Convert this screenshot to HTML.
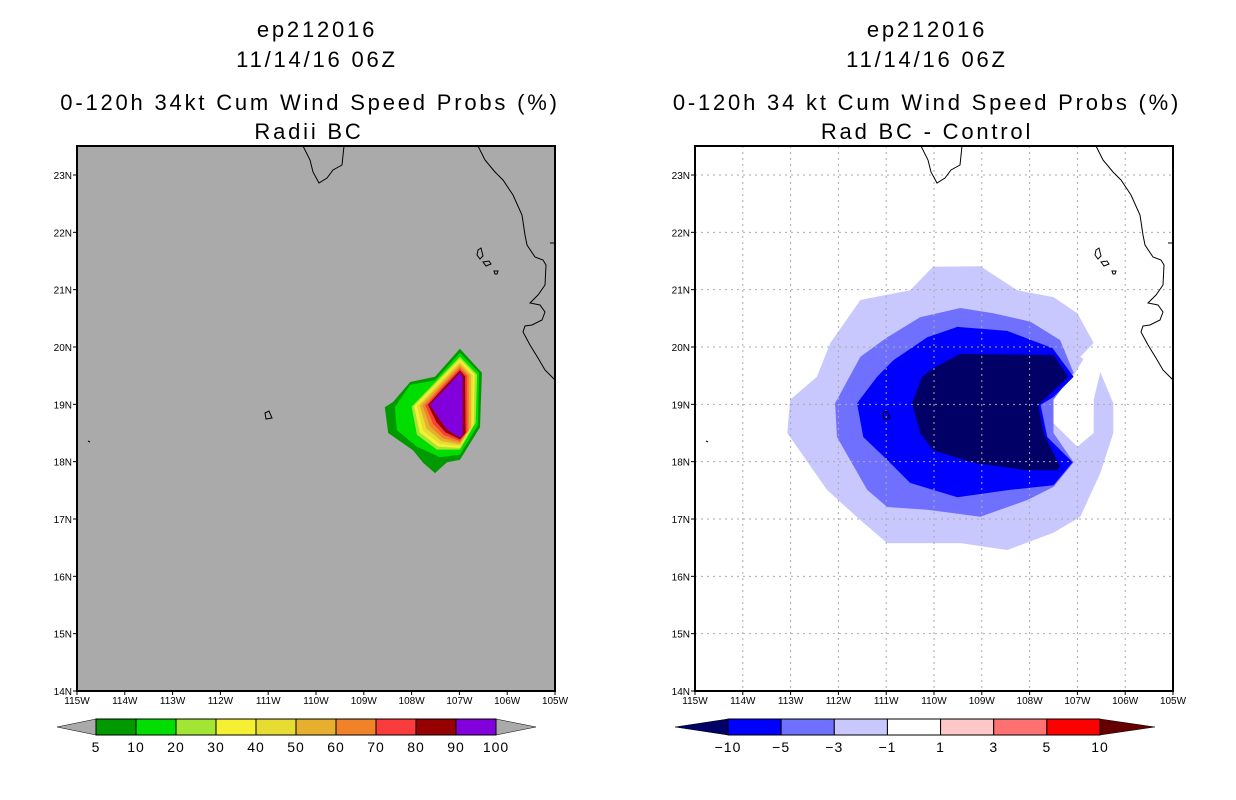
<!DOCTYPE html>
<html><head><meta charset="utf-8">
<style>
body{margin:0;background:#fff;}
svg{display:block;font-family:"Liberation Sans",sans-serif;}
</style></head>
<body>
<svg id="root" width="1236" height="800" viewBox="0 0 1236 800" xmlns="http://www.w3.org/2000/svg">
<rect width="1236" height="800" fill="#fff"/>
<g font-size="22" letter-spacing="2.8" text-anchor="middle" fill="#000">
<text x="317" y="37">ep212016</text>
<text x="317" y="67">11/14/16 06Z</text>
<text x="310" y="110">0-120h 34kt Cum Wind Speed Probs (%)</text>
<text x="309" y="139">Radii BC</text>
</g>
<g font-size="22" letter-spacing="2.8" text-anchor="middle" fill="#000">
<text x="927" y="37">ep212016</text>
<text x="927" y="67">11/14/16 06Z</text>
<text x="927" y="110">0-120h 34 kt Cum Wind Speed Probs (%)</text>
<text x="927" y="139">Rad BC - Control</text>
</g>
<g id="left"></g>
<g id="right"></g>
<g id="cbl"></g>
<g id="cbr"></g>
</svg>
<script>
const NS="http://www.w3.org/2000/svg";
// axis ticks
const lonTicks=[115,114,113,112,111,110,109,108,107,106,105];
const latTicks=[14,15,16,17,18,19,20,21,22,23];
// left panel probability contours (lonW, lat)
const leftLevels=["#009900","#00dd00","#a0e632","#f5f032","#e6dc32","#e6af2d","#f08228","#fa3c3c","#960000","#8200dc"];
const leftContours=[
[[106.99,19.97],[106.53,19.55],[106.57,18.60],[106.99,18.03],[107.26,17.99],[107.51,17.80],[107.76,17.98],[107.97,18.2],[108.49,18.5],[108.56,18.95],[108.39,19.04],[108.03,19.39],[107.51,19.48]],
[[106.99,19.9],[106.59,19.55],[106.61,18.64],[106.99,18.12],[107.41,18.08],[107.89,18.26],[108.31,18.55],[108.35,18.95],[108.03,19.34],[107.51,19.42]],
[[106.99,19.83],[106.63,19.52],[106.66,18.68],[106.99,18.21],[107.47,18.21],[107.89,18.47],[108.0,18.96],[107.51,19.38]],
[[106.99,19.79],[106.68,19.52],[106.70,18.65],[106.99,18.24],[107.44,18.26],[107.83,18.51],[107.95,18.97],[107.48,19.37]],
[[106.99,19.75],[106.72,19.51],[106.73,18.62],[106.99,18.27],[107.41,18.31],[107.76,18.54],[107.89,18.97],[107.45,19.36]],
[[106.99,19.71],[106.76,19.51],[106.76,18.59],[106.99,18.30],[107.38,18.36],[107.69,18.58],[107.83,18.98],[107.42,19.34]],
[[106.99,19.67],[106.80,19.50],[106.80,18.56],[106.99,18.33],[107.35,18.41],[107.62,18.62],[107.77,18.98],[107.39,19.32]],
[[106.99,19.63],[106.84,19.50],[106.83,18.53],[106.99,18.36],[107.32,18.46],[107.55,18.66],[107.71,18.98],[107.36,19.31]],
[[106.99,19.59],[106.88,19.49],[106.87,18.50],[106.99,18.39],[107.29,18.51],[107.48,18.69],[107.66,18.99],[107.33,19.29]],
[[106.99,19.55],[106.93,19.48],[106.93,18.47],[106.99,18.42],[107.26,18.56],[107.41,18.73],[107.62,18.99],[107.30,19.27]]
];
// right panel difference contours
const rightColors=["#c8c8ff","#ffffff","#7070ff","#0000ff","#000066"];
const rightContours=[
[[110.02,21.40],[109.03,21.41],[108.26,20.99],[107.5,20.87],[107.0,20.59],[106.66,20.07],[106.94,19.83],[106.52,19.56],[106.25,19.02],[106.25,18.50],[106.52,17.80],[106.94,17.04],[107.5,16.76],[108.47,16.46],[109.45,16.58],[110.98,16.58],[111.54,16.98],[112.24,17.51],[113.07,18.50],[113.01,19.08],[112.45,19.48],[112.17,20.07],[111.54,20.82],[110.5,20.99]],
[[106.66,20.07],[107.08,19.51],[107.63,19.02],[107.5,18.67],[107.0,18.26],[106.66,18.5],[106.66,19.08],[106.52,19.56]],
[[109.45,20.68],[108.76,20.59],[107.98,20.44],[107.36,20.12],[107.08,19.55],[107.5,19.08],[107.5,18.5],[107.08,17.99],[107.5,17.56],[108.05,17.33],[109.03,17.04],[110.14,17.16],[110.98,17.21],[111.4,17.51],[112.03,18.43],[112.07,19.02],[111.54,19.83],[110.98,20.17],[110.29,20.52]],
[[109.51,20.35],[108.47,20.28],[107.52,19.98],[107.08,19.48],[107.5,19.13],[107.77,18.99],[107.63,18.43],[107.1,17.99],[107.5,17.59],[108.4,17.51],[109.51,17.38],[110.5,17.63],[110.98,18.03],[111.48,18.43],[111.61,19.02],[111.19,19.48],[110.85,19.77],[110.14,20.17]],
[[109.45,19.88],[107.5,19.86],[107.19,19.48],[107.82,18.99],[107.71,18.5],[107.36,17.91],[107.42,17.85],[108.05,17.85],[109.18,17.98],[110.02,18.2],[110.29,18.5],[110.46,19.02],[110.25,19.48],[110.02,19.63]]
];
const leftCbColors=["#009900","#00dd00","#a0e632","#f5f032","#e6dc32","#e6af2d","#f08228","#fa3c3c","#960000","#8200dc"];
const leftCbLabels=["5","10","20","30","40","50","60","70","80","90","100"];
const rightCbColors=["#0000ff","#7070ff","#c8c8ff","#ffffff","#ffc8c8","#ff7070","#ff0000"];
const rightCbLabels=["-10","-5","-3","-1","1","3","5","10"];

function el(tag,attrs,parent){const e=document.createElementNS(NS,tag);for(const k in attrs)e.setAttribute(k,attrs[k]);parent.appendChild(e);return e;}
function makeAxes(x0){
  const W=478,H=545,top=146;
  return {x0,top,W,H,
    x:lon=>x0+(115-lon)*W/10,
    y:lat=>691-(lat-14)*(691-175)/9};
}
function poly(ax,pts){return pts.map(p=>ax.x(p[0]).toFixed(1)+","+ax.y(p[1]).toFixed(1)).join(" ");}
const coast="M303,146 L310,160 L313,172 L319,183 L327,178 L333,170 L342,165 L344,146 M478,146 L485,160 L495,172 L503,180 L513,195 L522,215 L525,235 L527,245 L535,257 L543,260 L546,265 L545,285 L538,295 L530,303 L540,305 L545,312 L542,320 L532,325 L525,326 L523,332 L530,345 L538,358 L545,370 L555,380 M550,243 L555,243 M478,250 L481,248 L483,256 L480,259 L477,255 Z M483,262 L489,261 L491,264 L486,266 Z M494,271 L498,271 L497,274 L495,274 Z M265,413 L269,411 L272,418 L266,419 Z M88,441 L90,442";

function drawPanel(g,ax,bg,contours,colors,grid,side){
  const m=el("rect",{x:ax.x0,y:ax.top,width:ax.W,height:ax.H,fill:bg},g);
  
  
  const clipId="clip"+side;
  const cp=el("clipPath",{id:clipId},g);el("rect",{x:ax.x0,y:ax.top,width:ax.W,height:ax.H},cp);
  const cg=el("g",{"clip-path":"url(#"+clipId+")"},g);
  contours.forEach((c,i)=>{
    const p=el("polygon",{points:poly(ax,c),fill:colors[i]},cg);
    
    
  });
  if(grid){
    lonTicks.forEach(l=>{el("line",{x1:ax.x(l),x2:ax.x(l),y1:ax.top,y2:ax.top+ax.H,stroke:"#aaa","stroke-dasharray":"2,4","stroke-width":1},cg);});
    latTicks.forEach(l=>{el("line",{x1:ax.x0,x2:ax.x0+ax.W,y1:ax.y(l),y2:ax.y(l),stroke:"#aaa","stroke-dasharray":"2,4","stroke-width":1},cg);});
  }
  const cl=el("path",{d:coast,fill:"none",stroke:"#000","stroke-width":1,transform:"translate("+(ax.x0-77)+",0)"},cg);
  
  
  el("rect",{x:ax.x0,y:ax.top,width:ax.W,height:ax.H,fill:"none",stroke:"#000","stroke-width":2},g);
  lonTicks.forEach(l=>{
    el("line",{x1:ax.x(l),x2:ax.x(l),y1:691,y2:695,stroke:"#000"},g);
    const t=el("text",{x:ax.x(l),y:704,"font-size":10,"text-anchor":"middle"},g);t.textContent=l+"W";
    
    
  });
  latTicks.forEach(l=>{
    el("line",{x1:ax.x0-4,x2:ax.x0,y1:ax.y(l),y2:ax.y(l),stroke:"#000"},g);
    const t=el("text",{x:ax.x0-5,y:ax.y(l)+4,"font-size":10,"text-anchor":"end"},g);t.textContent=l+"N";
    
    
  });
}
const axL=makeAxes(77), axR=makeAxes(695);
drawPanel(document.getElementById("left"),axL,"#aaaaaa",leftContours,leftLevels,false,"left");
drawPanel(document.getElementById("right"),axR,"#ffffff",rightContours,rightColors,true,"right");

function colorbar(g,x0,x1,tl,tr,colors,labels,lc,rc,side){
  const y0=719,y1=735,n=colors.length,w=(x1-x0)/n;
  el("polygon",{points:`${tl},727 ${x0},${y0} ${x0},${y1}`,fill:lc,stroke:"#000","stroke-width":0.5},g);
  el("polygon",{points:`${tr},727 ${x1},${y0} ${x1},${y1}`,fill:rc,stroke:"#000","stroke-width":0.5},g);
  colors.forEach((c,i)=>{
    const r=el("rect",{x:x0+i*w,y:y0,width:w,height:y1-y0,fill:c,stroke:"#000","stroke-width":1},g);
    
    
  });
  labels.forEach((l,i)=>{
    const t=el("text",{x:x0+i*w,y:752,"font-size":14,"letter-spacing":1,"text-anchor":"middle"},g);t.textContent=l.replace("-","\u2212");
    
    
  });
}
colorbar(document.getElementById("cbl"),96,496,57,536,leftCbColors,leftCbLabels,"#aaaaaa","#aaaaaa","left");
colorbar(document.getElementById("cbr"),728,1100,675,1155,rightCbColors,rightCbLabels,"#000066","#660000","right");
</script>
</body></html>
